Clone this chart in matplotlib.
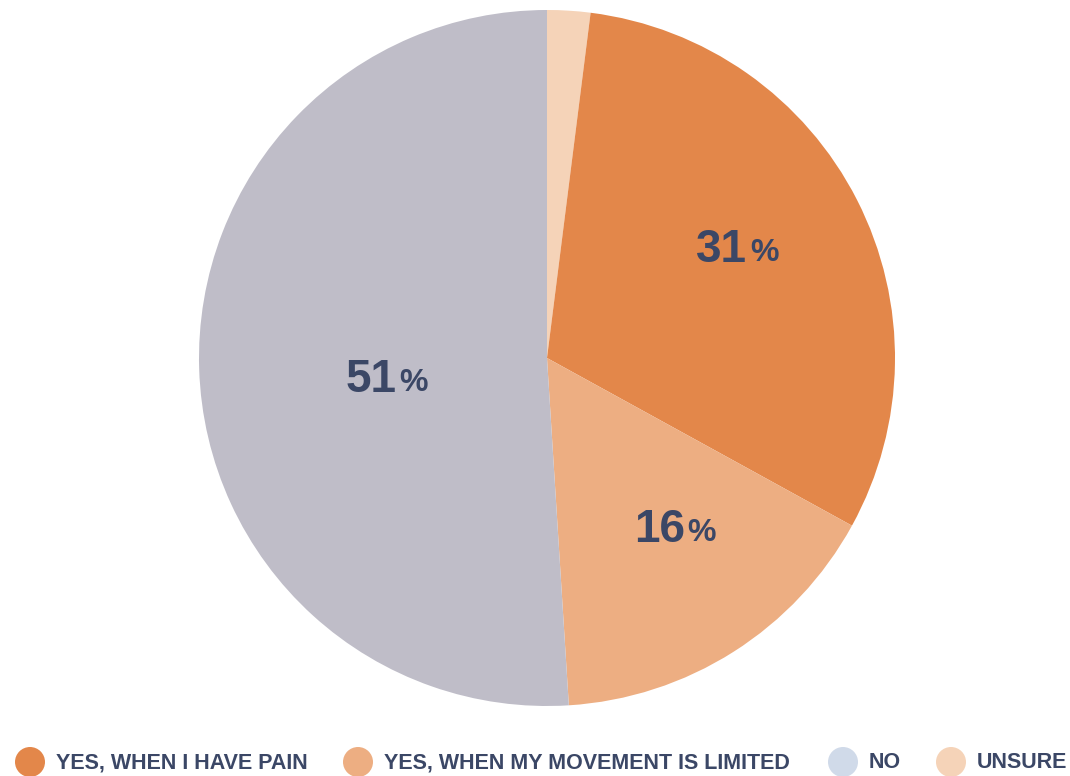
import numpy as np
import matplotlib.pyplot as plt
from matplotlib.patches import Circle

# survey answers, clockwise from 12 o'clock
answers = ["UNSURE", "YES, WHEN I HAVE PAIN", "YES, WHEN MY MOVEMENT IS LIMITED", "NO"]
shares = [2, 31, 16, 51]
slice_colors = ["#f5d3b8", "#e3874a", "#edae82", "#bfbdc8"]
show_label = [False, True, True, True]
label_dist = [0.0, 0.59, 0.59, 0.51]
label_turn = [0.0, 4.6, 0.7, 5.2]  # degrees

# legend order
legend_names = ["YES, WHEN I HAVE PAIN", "YES, WHEN MY MOVEMENT IS LIMITED", "NO", "UNSURE"]
legend_colors = ["#e3874a", "#edae82", "#d0dae9", "#f5d3b8"]
legend_x = [30, 358, 843, 951]  # marker centres, px

W, H = 1070, 776
text_color = "#3b4766"
plt.rcParams['font.family'] = ['Liberation Sans', 'DejaVu Sans']

fig = plt.figure(figsize=(W / 100, H / 100), dpi=100)
fig.patch.set_facecolor("white")

# pie axes: centre (547, 358) px, radius 348 px
cx, cy, r = 547, 358, 348
ax = fig.add_axes([(cx - r) / W, 1 - (cy + r) / H, 2 * r / W, 2 * r / H])
wedges, _ = ax.pie(shares, colors=slice_colors, startangle=90, counterclock=False,
                   radius=1, wedgeprops=dict(linewidth=0))
ax.set_xlim(-1, 1)
ax.set_ylim(-1, 1)
ax.set_aspect("equal")
ax.axis("off")

for w, val, show, d, turn in zip(wedges, shares, show_label, label_dist, label_turn):
    if not show:
        continue
    mid = np.deg2rad((w.theta1 + w.theta2) / 2 + turn)
    x, y = d * np.cos(mid), d * np.sin(mid)
    t = ax.text(x, y, str(val), ha="center", va="center", fontsize=33, fontweight="bold",
                color=text_color)
    ax.annotate("%", xy=(1, 0.09), xycoords=t, xytext=(2, 0), textcoords="offset points",
                ha="left", va="bottom", fontsize=23, fontweight="bold", color=text_color)

# legend row
lax = fig.add_axes([0, 0, 1, 1])
lax.set_xlim(0, W)
lax.set_ylim(H, 0)
lax.axis("off")
ly = 762
for name, col, x in zip(legend_names, legend_colors, legend_x):
    lax.add_patch(Circle((x, ly), 15, color=col, lw=0))
    lax.text(x + 26, ly + 1, name, ha="left", va="center", fontsize=15.5,
             fontweight="bold", color=text_color)

fig.savefig("out.png", dpi=100, facecolor="white")
